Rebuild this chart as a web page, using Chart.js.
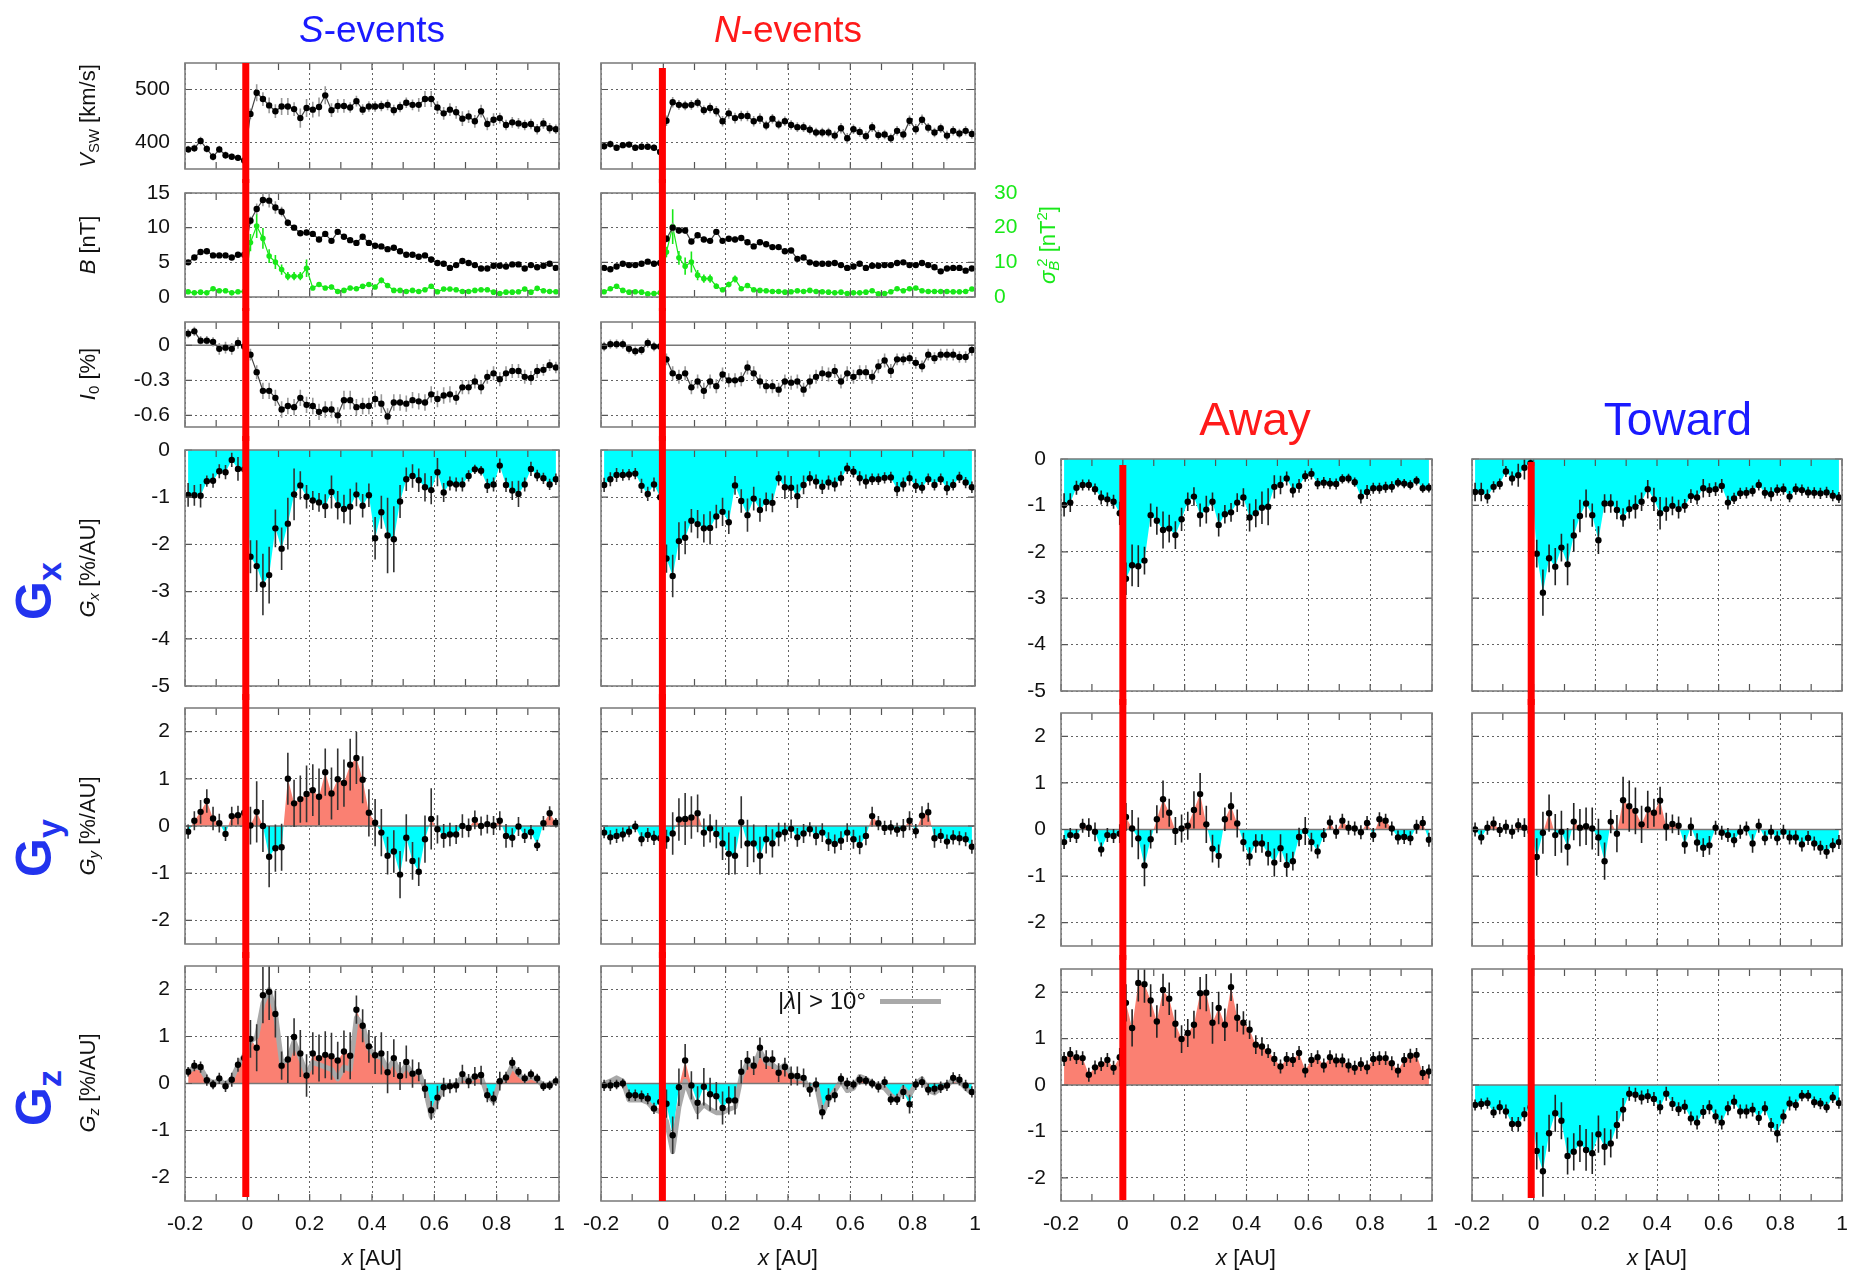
<!DOCTYPE html>
<html>
<head>
<meta charset="utf-8">
<title>Solar wind, B, I0 and gradients for S/N and Away/Toward events</title>
<script src="https://cdn.jsdelivr.net/npm/chart.js@4.4.0/dist/chart.umd.min.js"></script>
<style>
  html, body { margin: 0; padding: 0; background: #fff; }
  #page { position: relative; width: 1852px; height: 1277px; overflow: hidden;
          font-family: "Liberation Sans", Arial, sans-serif; color: #111; }
  #page canvas { position: absolute; }
  .txt { position: absolute; white-space: nowrap; line-height: 1; }
  .rot { transform: translate(-50%, -50%) rotate(-90deg); }
  .ctr { transform: translateX(-50%); }
  sub, sup { font-size: 0.68em; line-height: 0; }
  sub { vertical-align: -0.28em; }
  sup { vertical-align: 0.55em; }
</style>
</head>
<body>
<div id="page"></div>
<script>
// bin centres [AU]
const xs = [-0.19,-0.17,-0.15,-0.13,-0.11,-0.09,-0.07,-0.05,-0.03,-0.01,
            0.01,0.03,0.05,0.07,0.09,0.11,0.13,0.15,0.17,0.19,
            0.21,0.23,0.25,0.27,0.29,0.31,0.33,0.35,0.37,0.39,
            0.41,0.43,0.45,0.47,0.49,0.51,0.53,0.55,0.57,0.59,
            0.61,0.63,0.65,0.67,0.69,0.71,0.73,0.75,0.77,0.79,
            0.81,0.83,0.85,0.87,0.89,0.91,0.93,0.95,0.97,0.99];

const X_TICKS = [-0.2, 0, 0.2, 0.4, 0.6, 0.8, 1];
const X_MINOR = [-0.2, -0.1, 0, 0.1, 0.2, 0.3, 0.4, 0.5, 0.6, 0.7, 0.8, 0.9, 1];
const V_TICKS = [400, 500];
const B_TICKS = [0, 5, 10, 15];
const S_TICKS = [0, 10, 20, 30];
const I0_TICKS = [-0.6, -0.3, 0];
const GX_TICKS = [-5, -4, -3, -2, -1, 0];
const GYZ_TICKS = [-2, -1, 0, 1, 2];

// ---- S-events ----
const V1 = [387,389,403,388,373,387,376,373,371,366,454,494,482,470,459,468,468,463,446,465,462,467,489,461,469,469,466,478,462,468,468,469,471,461,467,475,471,471,482,482,466,455,462,457,445,449,440,459,435,443,446,433,438,436,433,435,425,436,427,425];
const V1E = [7,7,8,7,7,7,7,6,6,6,10,16,13,15,13,16,16,13,18,17,15,18,17,13,13,13,10,10,10,10,10,10,10,10,10,10,10,13,15,15,12,12,12,12,14,12,12,12,12,12,10,10,10,10,10,10,10,10,10,9];
const B1 = [5.0,5.7,6.5,6.6,6.0,6.0,6.0,5.7,6.1,6.1,11.0,12.7,14.0,13.9,12.9,12.3,10.7,10.0,9.2,9.3,9.1,8.3,9.1,8.1,9.4,8.7,8.2,7.8,8.7,7.8,7.4,7.3,6.9,7.1,6.6,6.1,6.1,5.8,6.0,5.4,4.9,4.8,4.2,4.6,5.2,4.9,4.6,4.1,4.1,4.5,4.5,4.4,4.7,4.7,4.1,4.6,4.3,4.5,4.8,4.2];
const B1E = [0.3,0.3,0.4,0.4,0.3,0.3,0.3,0.3,0.3,0.3,0.6,0.8,0.9,1.0,0.9,0.7,0.5,0.4,0.4,0.4,0.4,0.4,0.4,0.3,0.4,0.3,0.3,0.3,0.3,0.3,0.3,0.3,0.3,0.3,0.3,0.3,0.3,0.3,0.3,0.3,0.3,0.3,0.3,0.3,0.3,0.3,0.3,0.3,0.3,0.3,0.3,0.3,0.3,0.3,0.3,0.3,0.3,0.3,0.3,0.3];
const S1 = [1.5,1.2,1.4,1.2,2.4,1.8,1.8,1.2,1.5,1.6,15.7,20.5,16.9,11.8,10.1,7.9,6.0,6.0,6.0,8.3,2.6,3.6,2.6,2.9,1.6,1.9,2.6,2.4,3.1,3.6,2.9,4.8,3.3,1.9,1.9,1.6,1.9,1.6,2.1,3.1,1.5,2.3,2.3,2.1,1.6,1.6,1.9,2.1,2.1,1.4,1.0,1.4,1.4,1.5,2.3,1.4,2.5,1.8,1.6,1.5];
const S1E = [0.4,0.4,0.4,0.4,0.4,0.4,0.4,0.4,0.4,0.4,2.5,3.5,3.0,2.0,2.0,1.5,1.2,1.2,1.2,2.5,0.6,0.6,0.6,0.6,0.5,0.5,0.6,0.6,0.6,0.6,0.6,0.8,0.6,0.5,0.5,0.4,0.4,0.4,0.5,0.6,0.4,0.4,0.4,0.4,0.4,0.4,0.4,0.4,0.4,0.4,0.4,0.4,0.4,0.4,0.4,0.4,0.4,0.4,0.4,0.4];
const I01 = [0.10,0.12,0.04,0.04,0.03,-0.03,-0.02,-0.03,0.02,-0.01,-0.08,-0.23,-0.39,-0.39,-0.45,-0.55,-0.52,-0.53,-0.45,-0.51,-0.52,-0.57,-0.55,-0.55,-0.60,-0.47,-0.47,-0.53,-0.52,-0.52,-0.46,-0.50,-0.61,-0.49,-0.49,-0.50,-0.47,-0.48,-0.49,-0.42,-0.46,-0.43,-0.42,-0.45,-0.36,-0.36,-0.31,-0.36,-0.27,-0.24,-0.29,-0.24,-0.22,-0.22,-0.27,-0.28,-0.22,-0.21,-0.17,-0.19];
const I01E = [0.04,0.04,0.04,0.04,0.04,0.05,0.05,0.05,0.05,0.05,0.05,0.06,0.07,0.07,0.07,0.07,0.07,0.07,0.07,0.07,0.07,0.07,0.07,0.07,0.07,0.08,0.08,0.07,0.07,0.07,0.07,0.08,0.07,0.07,0.07,0.07,0.07,0.07,0.07,0.07,0.07,0.07,0.07,0.06,0.06,0.06,0.06,0.06,0.06,0.06,0.06,0.06,0.06,0.06,0.06,0.06,0.06,0.05,0.05,0.05];
const GX1 = [-0.95,-0.96,-0.97,-0.66,-0.65,-0.45,-0.47,-0.21,-0.40,-0.41,-2.26,-2.46,-2.85,-2.65,-1.66,-2.09,-1.56,-0.94,-0.75,-0.99,-1.07,-1.11,-1.19,-0.89,-1.17,-1.25,-1.20,-0.94,-1.18,-0.96,-1.87,-1.32,-1.81,-1.89,-1.09,-0.62,-0.55,-0.64,-0.79,-0.85,-0.47,-0.90,-0.71,-0.73,-0.73,-0.55,-0.41,-0.44,-0.76,-0.73,-0.33,-0.74,-0.86,-0.93,-0.73,-0.40,-0.54,-0.60,-0.73,-0.62];
const GX1E = [0.25,0.22,0.25,0.12,0.15,0.15,0.15,0.15,0.25,0.2,0.35,0.55,0.65,0.6,0.4,0.45,0.55,0.55,0.3,0.25,0.2,0.2,0.25,0.35,0.3,0.3,0.38,0.25,0.25,0.25,0.45,0.35,0.8,0.7,0.35,0.25,0.25,0.25,0.3,0.3,0.3,0.2,0.15,0.15,0.15,0.12,0.1,0.1,0.15,0.15,0.15,0.15,0.2,0.28,0.15,0.15,0.12,0.12,0.12,0.12];
const GY1 = [-0.12,0.11,0.30,0.53,0.16,0.06,-0.17,0.21,0.23,0.28,0.01,0.30,0.00,-0.65,-0.47,-0.45,1.00,0.48,0.57,0.68,0.76,0.62,1.14,0.69,0.99,0.91,1.30,1.44,0.98,0.28,0.07,-0.14,-0.63,-0.54,-1.03,-0.25,-0.74,-0.97,-0.28,0.15,-0.07,-0.21,-0.18,-0.18,0.00,-0.04,0.13,0.00,0.04,0.01,0.11,-0.21,-0.25,-0.01,-0.21,-0.13,-0.41,0.06,0.27,0.07];
const GY1E = [0.15,0.2,0.25,0.25,0.25,0.2,0.15,0.2,0.2,0.2,0.4,0.65,0.55,0.65,0.5,0.5,0.55,0.5,0.5,0.6,0.55,0.6,0.5,0.55,0.65,0.5,0.55,0.55,0.5,0.5,0.5,0.5,0.4,0.45,0.5,0.5,0.4,0.3,0.5,0.65,0.3,0.25,0.25,0.2,0.25,0.2,0.2,0.2,0.2,0.2,0.2,0.25,0.2,0.2,0.15,0.15,0.12,0.15,0.15,0.1];
const GZ1 = [0.25,0.38,0.35,0.07,-0.02,0.11,-0.06,0.08,0.40,0.54,0.95,0.76,1.88,1.95,1.48,0.38,0.51,0.99,0.64,0.17,0.64,0.54,0.61,0.58,0.49,0.68,0.59,1.57,1.23,0.79,0.60,0.64,0.24,0.54,0.16,0.46,0.21,0.25,-0.11,-0.57,-0.30,-0.08,-0.06,-0.04,0.20,0.05,0.15,0.18,-0.25,-0.32,0.05,0.13,0.44,0.25,0.11,0.20,0.11,-0.06,-0.04,0.05];
const GZ1E = [0.1,0.12,0.12,0.12,0.1,0.12,0.12,0.15,0.15,0.3,0.4,0.5,0.6,0.6,0.5,0.3,0.5,0.4,0.5,0.45,0.45,0.5,0.5,0.5,0.4,0.45,0.5,0.3,0.35,0.35,0.4,0.45,0.45,0.4,0.3,0.35,0.3,0.2,0.2,0.2,0.25,0.2,0.15,0.15,0.2,0.15,0.2,0.2,0.15,0.15,0.2,0.12,0.12,0.1,0.1,0.1,0.1,0.1,0.1,0.1];
const GZ1G = [0.25,0.35,0.33,0.10,0.00,0.08,-0.03,0.10,0.38,0.60,0.90,1.00,1.70,2.00,1.50,0.45,0.50,0.90,0.55,0.20,0.45,0.40,0.35,0.30,0.10,0.35,0.30,1.40,1.25,0.75,0.60,0.55,0.30,0.50,0.20,0.40,0.20,0.25,-0.10,-0.70,-0.35,-0.10,-0.05,-0.02,0.15,0.05,0.15,0.15,-0.25,-0.38,0.05,0.10,0.38,0.20,0.08,0.15,0.08,-0.05,-0.02,0.05];

// ---- N-events ----
const V2 = [393,397,390,395,396,390,392,392,390,382,441,476,471,470,471,475,461,465,459,440,455,446,450,450,440,445,432,445,434,440,433,429,429,424,419,419,419,413,427,408,425,420,412,429,414,415,408,422,415,441,425,443,428,419,427,413,422,417,422,416];
const V2E = [6,7,6,6,6,6,6,6,6,6,10,10,9,9,9,9,9,10,10,10,10,10,10,10,10,10,9,9,9,9,9,9,9,9,9,9,9,9,10,10,9,9,9,9,9,9,9,9,10,10,10,10,9,9,9,9,9,9,9,9];
const B2 = [4.2,4.0,4.4,4.8,4.6,4.6,4.8,5.1,4.8,4.9,8.4,10.0,9.6,9.6,8.0,8.9,8.3,8.1,9.4,8.1,8.4,8.3,8.5,7.9,7.3,7.9,7.6,7.2,7.2,6.6,6.7,5.5,5.7,5.0,4.8,4.8,4.8,4.9,4.6,4.2,4.4,4.8,4.2,4.5,4.5,4.6,4.6,4.9,5.0,4.6,4.6,4.9,4.6,4.3,3.7,4.1,4.2,4.2,3.8,4.1];
const B2E = [0.3,0.3,0.3,0.3,0.3,0.3,0.3,0.3,0.3,0.3,0.5,0.7,0.5,0.5,0.4,0.4,0.4,0.4,0.4,0.4,0.4,0.4,0.4,0.3,0.3,0.3,0.3,0.3,0.3,0.3,0.3,0.3,0.3,0.3,0.3,0.3,0.3,0.3,0.3,0.3,0.3,0.3,0.3,0.3,0.3,0.3,0.3,0.3,0.3,0.3,0.3,0.3,0.3,0.3,0.3,0.3,0.3,0.3,0.3,0.3];
const S2 = [1.5,2.4,3.1,1.9,1.4,1.5,1.4,0.9,1.0,1.2,13.0,20.3,11.3,8.9,10.1,6.3,5.3,5.3,3.1,2.1,3.6,5.2,2.4,3.3,2.1,1.9,1.8,1.6,1.6,1.4,1.5,1.8,1.6,1.9,1.6,1.5,1.4,1.2,1.4,1.0,1.2,1.2,1.4,1.8,0.9,1.0,1.5,2.4,1.8,2.4,2.6,1.8,1.6,1.6,1.6,1.6,1.5,1.5,1.6,2.3];
const S2E = [0.4,0.4,0.4,0.4,0.4,0.4,0.4,0.4,0.4,0.4,1.5,5.0,2.0,2.5,3.0,1.5,1.2,1.2,0.8,0.6,0.8,1.0,0.6,0.6,0.5,0.4,0.4,0.4,0.4,0.4,0.4,0.4,0.4,0.4,0.4,0.4,0.4,0.4,0.4,0.4,0.4,0.4,0.4,0.4,0.4,0.4,0.4,0.4,0.4,0.4,0.4,0.4,0.4,0.4,0.4,0.4,0.4,0.4,0.4,0.4];
const I02 = [-0.01,0.01,0.01,0.01,-0.03,-0.05,-0.04,0.02,-0.01,-0.01,-0.12,-0.24,-0.27,-0.24,-0.36,-0.31,-0.39,-0.31,-0.35,-0.25,-0.30,-0.30,-0.29,-0.19,-0.24,-0.31,-0.35,-0.35,-0.38,-0.31,-0.32,-0.31,-0.38,-0.31,-0.27,-0.24,-0.25,-0.22,-0.31,-0.24,-0.27,-0.23,-0.23,-0.27,-0.18,-0.13,-0.22,-0.12,-0.12,-0.11,-0.15,-0.18,-0.08,-0.11,-0.08,-0.08,-0.08,-0.10,-0.10,-0.04];
const I02E = [0.04,0.04,0.04,0.04,0.04,0.04,0.04,0.04,0.04,0.04,0.05,0.06,0.06,0.06,0.06,0.06,0.07,0.06,0.06,0.06,0.06,0.06,0.06,0.06,0.06,0.06,0.06,0.06,0.06,0.06,0.06,0.06,0.06,0.06,0.06,0.06,0.06,0.06,0.06,0.06,0.06,0.06,0.06,0.06,0.06,0.06,0.06,0.05,0.05,0.05,0.05,0.05,0.05,0.05,0.05,0.05,0.05,0.05,0.05,0.05];
const GX2 = [-0.74,-0.62,-0.53,-0.53,-0.52,-0.50,-0.76,-0.93,-0.73,-1.00,-2.30,-2.67,-1.93,-1.86,-1.50,-1.57,-1.66,-1.65,-1.41,-1.31,-1.53,-0.75,-1.08,-1.38,-1.03,-1.27,-1.10,-1.12,-0.60,-0.79,-0.80,-0.98,-0.74,-0.60,-0.67,-0.78,-0.69,-0.73,-0.60,-0.39,-0.46,-0.60,-0.67,-0.62,-0.62,-0.59,-0.58,-0.83,-0.73,-0.60,-0.76,-0.80,-0.62,-0.74,-0.62,-0.81,-0.74,-0.58,-0.69,-0.79];
const GX2E = [0.15,0.15,0.15,0.12,0.12,0.12,0.15,0.15,0.15,0.15,0.3,0.45,0.4,0.35,0.25,0.3,0.3,0.35,0.25,0.3,0.25,0.2,0.25,0.35,0.25,0.25,0.2,0.2,0.15,0.25,0.25,0.25,0.2,0.15,0.15,0.15,0.15,0.15,0.15,0.12,0.12,0.15,0.15,0.12,0.12,0.12,0.12,0.15,0.15,0.15,0.15,0.12,0.12,0.12,0.12,0.15,0.12,0.12,0.12,0.12];
const GY2 = [-0.14,-0.24,-0.21,-0.18,-0.12,-0.01,-0.28,-0.19,-0.25,-0.26,-0.28,-0.16,0.14,0.15,0.18,0.27,-0.14,-0.05,-0.17,-0.37,-0.59,-0.63,0.08,-0.37,-0.37,-0.63,-0.28,-0.37,-0.18,-0.13,-0.06,-0.24,-0.16,-0.07,-0.21,-0.14,-0.33,-0.38,-0.31,-0.14,-0.28,-0.40,-0.21,0.21,0.06,-0.04,-0.03,-0.08,-0.05,0.11,-0.11,0.22,0.29,-0.26,-0.21,-0.33,-0.24,-0.26,-0.28,-0.44];
const GY2E = [0.12,0.15,0.15,0.15,0.12,0.12,0.15,0.15,0.15,0.2,0.2,0.45,0.45,0.55,0.45,0.4,0.3,0.3,0.3,0.35,0.45,0.4,0.55,0.5,0.4,0.4,0.3,0.3,0.25,0.2,0.2,0.2,0.2,0.15,0.2,0.2,0.2,0.2,0.2,0.2,0.2,0.2,0.2,0.2,0.15,0.15,0.15,0.15,0.2,0.2,0.15,0.2,0.2,0.2,0.15,0.15,0.15,0.15,0.15,0.15];
const GZ2 = [-0.04,-0.04,-0.02,0.00,-0.25,-0.25,-0.27,-0.32,-0.53,-0.39,-0.43,-1.10,-0.08,0.49,-0.04,-0.41,-0.07,-0.23,-0.27,-0.52,-0.36,-0.36,0.25,0.49,0.38,0.76,0.51,0.51,0.23,0.35,0.16,0.16,0.12,-0.13,-0.02,-0.61,-0.30,-0.25,0.10,0.00,-0.02,0.08,0.06,0.00,-0.07,0.03,-0.34,-0.34,-0.18,-0.44,-0.02,0.03,-0.13,-0.11,-0.08,-0.04,0.12,0.08,-0.04,-0.18];
const GZ2E = [0.12,0.12,0.1,0.1,0.12,0.12,0.12,0.12,0.12,0.2,0.3,0.4,0.4,0.35,0.3,0.35,0.4,0.35,0.3,0.35,0.3,0.3,0.25,0.2,0.2,0.22,0.2,0.2,0.2,0.2,0.2,0.2,0.2,0.15,0.15,0.15,0.2,0.15,0.12,0.12,0.1,0.1,0.1,0.1,0.12,0.12,0.12,0.12,0.15,0.2,0.12,0.12,0.12,0.12,0.12,0.12,0.12,0.12,0.12,0.12];
const GZ2G = [0.00,0.05,0.12,0.05,-0.35,-0.35,-0.35,-0.40,-0.55,-0.60,-0.80,-1.45,-0.50,0.05,-0.30,-0.60,-0.45,-0.55,-0.62,-0.62,-0.55,-0.50,0.15,0.45,0.35,0.70,0.45,0.40,0.30,0.40,0.20,0.10,0.10,-0.15,0.00,-0.65,-0.35,-0.15,0.05,-0.15,-0.10,0.15,0.10,0.00,-0.05,-0.10,-0.25,-0.35,-0.10,-0.25,0.00,0.10,-0.15,-0.20,-0.10,-0.05,0.10,0.05,-0.10,-0.20];

// ---- Away ----
const GX3 = [-0.99,-0.94,-0.62,-0.56,-0.56,-0.65,-0.83,-0.87,-0.92,-1.17,-2.58,-2.29,-2.31,-2.19,-1.21,-1.33,-1.53,-1.50,-1.64,-1.30,-0.92,-0.81,-1.21,-1.09,-0.92,-1.42,-1.19,-1.15,-0.94,-0.83,-1.26,-1.17,-1.05,-1.03,-0.60,-0.56,-0.42,-0.68,-0.58,-0.37,-0.32,-0.53,-0.51,-0.53,-0.54,-0.43,-0.42,-0.50,-0.81,-0.71,-0.63,-0.63,-0.61,-0.60,-0.51,-0.53,-0.56,-0.47,-0.63,-0.62];
const GX3E = [0.25,0.2,0.15,0.12,0.12,0.12,0.15,0.15,0.15,0.25,0.35,0.45,0.45,0.3,0.25,0.3,0.4,0.3,0.3,0.25,0.2,0.2,0.25,0.3,0.2,0.25,0.2,0.2,0.2,0.2,0.3,0.3,0.35,0.4,0.25,0.2,0.15,0.15,0.15,0.12,0.12,0.12,0.12,0.12,0.12,0.1,0.1,0.1,0.15,0.15,0.12,0.12,0.12,0.12,0.1,0.1,0.1,0.1,0.1,0.1];
const GY3 = [-0.27,-0.12,-0.14,0.08,0.04,-0.05,-0.43,-0.12,-0.14,-0.09,0.27,0.02,-0.19,-0.77,-0.21,0.22,0.65,0.36,-0.03,0.02,0.08,0.42,0.76,0.11,-0.41,-0.57,0.22,0.50,0.13,-0.27,-0.58,-0.30,-0.30,-0.52,-0.71,-0.40,-0.76,-0.68,-0.16,-0.03,-0.27,-0.47,-0.12,0.15,-0.05,0.19,0.04,0.02,-0.06,0.14,-0.12,0.22,0.19,0.02,-0.17,-0.16,-0.19,0.06,0.14,-0.22];
const GY3E = [0.15,0.15,0.15,0.15,0.2,0.2,0.15,0.15,0.15,0.2,0.3,0.4,0.45,0.45,0.2,0.3,0.4,0.3,0.3,0.3,0.3,0.4,0.45,0.4,0.3,0.25,0.25,0.3,0.3,0.2,0.2,0.2,0.2,0.25,0.3,0.3,0.25,0.2,0.2,0.3,0.2,0.15,0.15,0.15,0.15,0.15,0.15,0.15,0.15,0.15,0.15,0.15,0.15,0.15,0.15,0.15,0.15,0.15,0.15,0.15];
const GZ3 = [0.56,0.67,0.60,0.58,0.22,0.38,0.45,0.54,0.37,0.60,1.77,1.23,2.20,2.17,1.82,1.37,2.05,1.86,1.32,0.99,1.12,1.30,1.98,1.99,1.34,1.66,1.30,2.11,1.45,1.34,1.19,0.87,0.83,0.73,0.56,0.40,0.56,0.54,0.69,0.31,0.54,0.60,0.42,0.60,0.53,0.53,0.42,0.37,0.45,0.38,0.56,0.58,0.58,0.47,0.31,0.54,0.63,0.65,0.26,0.29];
const GZ3E = [0.15,0.15,0.15,0.15,0.15,0.15,0.15,0.15,0.15,0.2,0.4,0.4,0.4,0.4,0.35,0.35,0.35,0.35,0.3,0.3,0.3,0.3,0.35,0.4,0.45,0.35,0.35,0.3,0.3,0.25,0.2,0.2,0.2,0.15,0.15,0.15,0.15,0.15,0.15,0.15,0.15,0.15,0.15,0.15,0.15,0.15,0.15,0.15,0.15,0.15,0.15,0.15,0.15,0.15,0.15,0.15,0.15,0.15,0.15,0.15];

// ---- Toward ----
const GX4 = [-0.71,-0.71,-0.81,-0.60,-0.54,-0.27,-0.42,-0.35,-0.19,-0.09,-2.04,-2.88,-2.14,-2.32,-1.91,-2.27,-1.65,-1.23,-0.96,-1.21,-1.75,-0.96,-0.96,-1.10,-1.26,-1.08,-1.03,-0.92,-0.65,-0.87,-1.17,-1.08,-1.01,-1.08,-1.01,-0.80,-0.83,-0.63,-0.67,-0.65,-0.58,-0.94,-0.85,-0.74,-0.73,-0.69,-0.56,-0.73,-0.76,-0.67,-0.65,-0.81,-0.65,-0.67,-0.72,-0.73,-0.74,-0.72,-0.79,-0.83];
const GX4E = [0.2,0.2,0.15,0.12,0.12,0.12,0.15,0.25,0.25,0.2,0.3,0.5,0.3,0.4,0.3,0.45,0.35,0.35,0.3,0.25,0.3,0.2,0.2,0.2,0.2,0.2,0.25,0.2,0.2,0.25,0.35,0.25,0.2,0.2,0.15,0.15,0.15,0.2,0.15,0.15,0.15,0.15,0.12,0.12,0.12,0.12,0.12,0.12,0.15,0.12,0.12,0.12,0.12,0.12,0.12,0.12,0.12,0.12,0.12,0.12];
const GY4 = [0.00,-0.17,0.04,0.13,-0.01,0.06,-0.05,0.09,0.04,-0.05,-0.59,-0.07,0.35,-0.12,-0.05,-0.37,0.17,0.04,0.07,0.02,-0.17,-0.68,0.17,-0.09,0.63,0.50,0.40,0.11,0.43,0.36,0.62,0.06,0.12,0.08,-0.32,0.06,-0.28,-0.39,-0.34,0.04,-0.07,-0.12,-0.23,-0.05,0.02,-0.30,0.08,-0.19,-0.05,-0.19,-0.05,-0.17,-0.17,-0.32,-0.18,-0.30,-0.39,-0.48,-0.34,-0.27];
const GY4E = [0.15,0.15,0.15,0.15,0.15,0.15,0.15,0.15,0.2,0.2,0.4,0.45,0.4,0.45,0.45,0.4,0.4,0.4,0.4,0.45,0.4,0.4,0.25,0.4,0.5,0.55,0.5,0.4,0.4,0.3,0.3,0.3,0.2,0.2,0.2,0.2,0.2,0.2,0.2,0.15,0.15,0.15,0.15,0.15,0.15,0.2,0.15,0.15,0.15,0.15,0.15,0.15,0.15,0.15,0.15,0.15,0.15,0.15,0.15,0.15];
const GZ4 = [-0.43,-0.41,-0.39,-0.59,-0.48,-0.57,-0.84,-0.84,-0.63,-0.48,-1.42,-1.86,-1.04,-0.61,-0.77,-1.53,-1.44,-1.26,-1.40,-1.47,-1.06,-1.33,-1.26,-0.86,-0.53,-0.19,-0.21,-0.27,-0.24,-0.30,-0.48,-0.19,-0.41,-0.52,-0.47,-0.72,-0.81,-0.58,-0.48,-0.68,-0.81,-0.50,-0.36,-0.57,-0.57,-0.53,-0.71,-0.50,-0.86,-1.04,-0.68,-0.40,-0.43,-0.23,-0.23,-0.37,-0.40,-0.48,-0.27,-0.39];
const GZ4E = [0.12,0.12,0.12,0.12,0.15,0.15,0.15,0.15,0.15,0.2,0.4,0.55,0.4,0.4,0.4,0.4,0.4,0.4,0.45,0.45,0.4,0.4,0.3,0.3,0.25,0.15,0.15,0.15,0.15,0.15,0.15,0.15,0.15,0.15,0.15,0.15,0.15,0.15,0.15,0.15,0.15,0.15,0.15,0.15,0.15,0.15,0.15,0.15,0.15,0.2,0.15,0.15,0.12,0.12,0.12,0.12,0.12,0.12,0.12,0.12];

const CYAN = '#00ffff', SALMON = '#fa8072', GREEN = 'rgb(24,232,24)';
const GRID = 'rgba(60,60,60,0.8)';
Chart.defaults.font.family = '"Liberation Sans", Arial, sans-serif';

const page = document.getElementById('page');

const cols = [
  {left: 185,  width: 374, yLabels: true,  redX: -0.005, redTop: 63,  redBot: 1197},
  {left: 601,  width: 374, yLabels: false, redX: -0.003, redTop: 68,  redBot: 1201},
  {left: 1061, width: 371, yLabels: true,  redX: 0,      redTop: 465, redBot: 1200},
  {left: 1472, width: 370, yLabels: false, redX: -0.008, redTop: 462, redBot: 1198}
];

function fmt(v) { return String(Math.round(v * 100) / 100); }
function pts(vals) { return xs.map((x, i) => ({x: x, y: vals[i]})); }

function panel(col, top, height, cfg) {
  const ML = col.yLabels ? 100 : 40;
  const MR = cfg.right ? 60 : 14;
  const MT = cfg.first ? 20 : 14;
  const MB = cfg.bottom ? 50 : 14;
  const cv = document.createElement('canvas');
  cv.width = col.width + ML + MR;
  cv.height = height + MT + MB;
  cv.style.left = (col.left - ML) + 'px';
  cv.style.top = (top - MT) + 'px';
  page.appendChild(cv);
  const canvasTop = top - MT;

  const datasets = [];
  if (cfg.fill) {
    datasets.push({data: pts(cfg.fill), borderColor: 'rgba(0,0,0,0)', borderWidth: 1,
      pointRadius: 0, tension: 0, order: 3,
      fill: {target: 'origin', above: SALMON, below: CYAN}});
  }
  if (cfg.gray) {
    datasets.push({data: pts(cfg.gray), borderColor: '#a9a9a9', borderWidth: 5,
      borderJoinStyle: 'round', pointRadius: 0, fill: false, order: 2});
  }
  cfg.series.forEach(s => {
    datasets.push({
      data: pts(s.vals), errs: s.errs, errColor: s.errColor || '#333',
      yAxisID: s.axis || 'y',
      showLine: !!s.line, borderColor: s.lineColor || '#444', borderWidth: 1.2,
      pointRadius: s.radius || 3.2, pointBackgroundColor: s.color || '#000',
      pointBorderWidth: 0, fill: false, order: s.order || 0, main: true
    });
  });

  const scales = {
    x: {
      type: 'linear', min: -0.2, max: 1,
      afterBuildTicks: s => { s.ticks = X_TICKS.map(v => ({value: v})); },
      afterFit: s => { s.height = cfg.bottom ? MB : 0; s.paddingLeft = 0; s.paddingRight = 0; },
      ticks: {display: !!cfg.bottom, autoSkip: false, maxRotation: 0, padding: 11,
               color: '#111', font: {size: 21}, callback: fmt},
      grid: {color: GRID, drawTicks: false},
      border: {display: false, dash: [2, 3]}
    },
    y: {
      type: 'linear', min: cfg.yMin, max: cfg.yMax,
      afterBuildTicks: s => { s.ticks = cfg.yTicks.map(v => ({value: v})); },
      afterFit: s => { s.width = ML; s.paddingTop = 0; s.paddingBottom = 0; },
      ticks: {display: col.yLabels, autoSkip: false, padding: 15, color: '#111',
              font: {size: 21}, callback: fmt},
      grid: {color: GRID, drawTicks: false},
      border: {display: false, dash: [2, 3]}
    }
  };
  if (cfg.y2) {
    scales.y2 = {
      type: 'linear', position: 'right', display: !!cfg.right, min: 0, max: 30,
      afterBuildTicks: s => { s.ticks = S_TICKS.map(v => ({value: v})); },
      afterFit: s => {
        if (cfg.right) s.width = MR;
        s.paddingTop = 0; s.paddingBottom = 0;
      },
      ticks: {autoSkip: false, padding: 19, color: GREEN, font: {size: 21}, callback: fmt},
      grid: {drawOnChartArea: false, drawTicks: false},
      border: {display: false}
    };
  }

  const deco = {
    id: 'deco',
    beforeDatasetDraw(chart, args) {
      const ds = chart.data.datasets[args.index];
      if (!ds.main) return;
      const {ctx, chartArea: a} = chart;
      const xS = chart.scales.x, yS = chart.scales[ds.yAxisID];
      ctx.save();
      ctx.beginPath();
      ctx.rect(a.left, a.top, a.width, a.height);
      ctx.clip();
      if (cfg.zero && ds.order === 0) {
        const y0 = chart.scales.y.getPixelForValue(0);
        ctx.strokeStyle = '#777';
        ctx.lineWidth = 1.5;
        ctx.beginPath();
        ctx.moveTo(a.left, y0);
        ctx.lineTo(a.right, y0);
        ctx.stroke();
      }
      if (ds.errs) {
        ctx.strokeStyle = ds.errColor;
        ctx.lineWidth = 1.6;
        ctx.beginPath();
        xs.forEach((x, i) => {
          const v = ds.data[i].y, e = ds.errs[i];
          const px = xS.getPixelForValue(x);
          ctx.moveTo(px, yS.getPixelForValue(v - e));
          ctx.lineTo(px, yS.getPixelForValue(v + e));
        });
        ctx.stroke();
      }
      ctx.restore();
    },
    afterDraw(chart) {
      const {ctx, chartArea: a} = chart;
      const xS = chart.scales.x, yS = chart.scales.y;
      ctx.save();
      // inner tick marks
      ctx.strokeStyle = '#555';
      ctx.lineWidth = 1.2;
      ctx.beginPath();
      X_MINOR.forEach(v => {
        const px = xS.getPixelForValue(v);
        ctx.moveTo(px, a.bottom); ctx.lineTo(px, a.bottom - 7);
        ctx.moveTo(px, a.top); ctx.lineTo(px, a.top + 7);
      });
      cfg.yTicks.forEach(v => {
        const py = yS.getPixelForValue(v);
        ctx.moveTo(a.left, py); ctx.lineTo(a.left + 7, py);
        ctx.moveTo(a.right, py); ctx.lineTo(a.right - 7, py);
      });
      ctx.stroke();
      // frame
      ctx.strokeStyle = '#808080';
      ctx.lineWidth = 1.6;
      ctx.strokeRect(a.left, a.top, a.width, a.height);
      // red marker at the shock
      const rx = xS.getPixelForValue(col.redX);
      const y1 = Math.max(0, col.redTop - canvasTop);
      const y2 = Math.min(chart.height, col.redBot - canvasTop);
      if (y2 > y1) {
        ctx.fillStyle = 'rgb(255,0,0)';
        ctx.fillRect(rx - 3.5, y1, 7, y2 - y1);
      }
      ctx.restore();
    }
  };

  new Chart(cv, {
    type: 'line',
    data: {datasets: datasets},
    options: {
      responsive: false, animation: false, events: [],
      layout: {padding: {top: MT, right: cfg.right ? 0 : MR, bottom: cfg.bottom ? 0 : MB, left: 0}},
      plugins: {legend: {display: false}, tooltip: {enabled: false}},
      elements: {line: {tension: 0}},
      scales: scales
    },
    plugins: [deco]
  });
}

function text(html, x, y, cls, style) {
  const d = document.createElement('div');
  d.className = 'txt ' + (cls || '');
  d.innerHTML = html;
  d.style.left = x + 'px';
  d.style.top = y + 'px';
  Object.assign(d.style, style || {});
  page.appendChild(d);
}

const TOP = '#999';
[[cols[0], V1, V1E, B1, B1E, S1, S1E, I01, I01E, GX1, GX1E, GY1, GY1E, GZ1, GZ1E, GZ1G, false],
 [cols[1], V2, V2E, B2, B2E, S2, S2E, I02, I02E, GX2, GX2E, GY2, GY2E, GZ2, GZ2E, GZ2G, true]
].forEach(r => {
  const c = r[0];
  panel(c, 63, 106, {first: true, yMin: 350, yMax: 550, yTicks: V_TICKS,
    series: [{vals: r[1], errs: r[2], line: true, errColor: TOP}]});
  panel(c, 193, 104, {yMin: 0, yMax: 15, yTicks: B_TICKS, y2: true, right: r[16],
    series: [{vals: r[3], errs: r[4], line: true, errColor: TOP},
             {vals: r[5], errs: r[6], axis: 'y2', line: true, color: GREEN, lineColor: GREEN,
              errColor: GREEN, radius: 2.8, order: 1}]});
  panel(c, 322, 105, {yMin: -0.7, yMax: 0.2, yTicks: I0_TICKS, zero: true,
    series: [{vals: r[7], errs: r[8], line: true, errColor: TOP}]});
  panel(c, 450, 236, {yMin: -5, yMax: 0, yTicks: GX_TICKS, fill: r[9],
    series: [{vals: r[9], errs: r[10]}]});
  panel(c, 708, 236, {yMin: -2.5, yMax: 2.5, yTicks: GYZ_TICKS, fill: r[11], zero: true,
    series: [{vals: r[11], errs: r[12]}]});
  panel(c, 966, 235, {yMin: -2.5, yMax: 2.5, yTicks: GYZ_TICKS, fill: r[13], zero: true,
    gray: r[15], bottom: true, series: [{vals: r[13], errs: r[14]}]});
});

[[cols[2], GX3, GX3E, GY3, GY3E, GZ3, GZ3E],
 [cols[3], GX4, GX4E, GY4, GY4E, GZ4, GZ4E]
].forEach(r => {
  const c = r[0];
  panel(c, 459, 232, {first: true, yMin: -5, yMax: 0, yTicks: GX_TICKS, fill: r[1],
    series: [{vals: r[1], errs: r[2], errColor: '#222'}]});
  panel(c, 713, 233, {yMin: -2.5, yMax: 2.5, yTicks: GYZ_TICKS, fill: r[3], zero: true,
    series: [{vals: r[3], errs: r[4], errColor: '#222'}]});
  panel(c, 969, 232, {yMin: -2.5, yMax: 2.5, yTicks: GYZ_TICKS, fill: r[5], zero: true,
    bottom: true, series: [{vals: r[5], errs: r[6], errColor: '#222'}]});
});

// column titles
text('<i>S</i>-events', 372, 11, 'ctr', {fontSize: '37px', color: '#1a1aff'});
text('<i>N</i>-events', 788, 11, 'ctr', {fontSize: '37px', color: '#ff1a1a'});
text('Away', 1255, 396, 'ctr', {fontSize: '46px', color: '#ff1a1a'});
text('Toward', 1678, 396, 'ctr', {fontSize: '46px', color: '#1a1aff'});

// axis titles
const AX = {fontSize: '22px'};
text('<i>V</i><sub>SW</sub> [km/s]', 88, 116, 'rot', AX);
text('<i>B</i> [nT]', 88, 245, 'rot', AX);
text('<i>I</i><sub>0</sub> [%]', 88, 374, 'rot', AX);
text('<i>G<sub>x</sub></i> [%/AU]', 88, 568, 'rot', AX);
text('<i>G<sub>y</sub></i> [%/AU]', 88, 826, 'rot', AX);
text('<i>G<sub>z</sub></i> [%/AU]', 88, 1083, 'rot', AX);
text('<i>σ<sub>B</sub></i><sup style="margin-left:-0.4em">2</sup> [nT<sup>2</sup>]', 1048, 245, 'rot',
     {fontSize: '22px', color: GREEN});

// big component labels
const GL = {fontSize: '50px', fontWeight: 'bold', color: '#2233ee'};
text('G<sub>x</sub>', 34, 591, 'rot', GL);
text('G<sub>y</sub>', 34, 848, 'rot', GL);
text('G<sub>z</sub>', 34, 1098, 'rot', GL);

// x axis titles
[372, 788, 1246, 1657].forEach(x => text('<i>x</i> [AU]', x, 1247, 'ctr', {fontSize: '22px'}));

// legend in N-events Gz panel
text('|<i>λ</i>| &gt; 10°', 866, 989, '', {fontSize: '24px', transform: 'translateX(-100%)'});
const sample = document.createElement('div');
Object.assign(sample.style, {position: 'absolute', left: '880px', top: '999px', width: '61px',
  height: '5px', background: '#a9a9a9'});
page.appendChild(sample);
</script>
</body>
</html>
